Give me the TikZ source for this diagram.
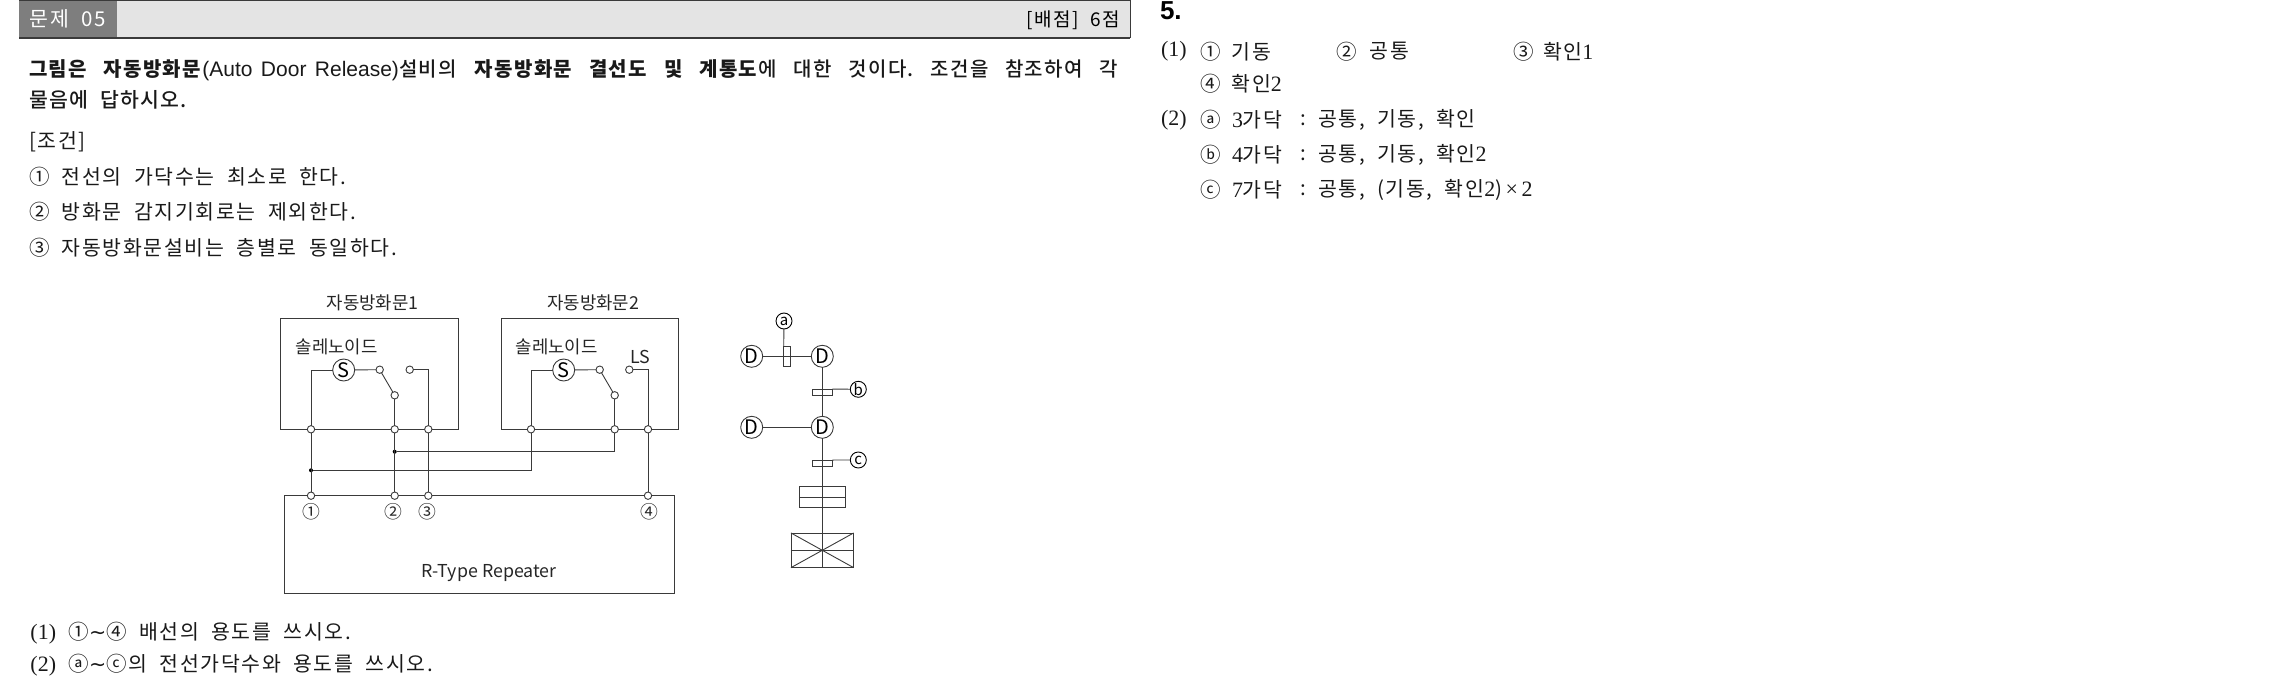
\documentclass[tikz,border=0pt]{standalone}
\usepackage{fontspec}
\setmainfont{Noto Sans CJK KR}
\newfontfamily\bodyfont[LetterSpace=8,WordSpace=2]{Noto Sans CJK KR}
\newfontfamily\medfont[LetterSpace=6.5,WordSpace=2]{Noto Sans CJK KR Medium}
\newfontfamily\latinserif[Scale=1.07]{Liberation Serif}
\newfontfamily\latinsans{Liberation Sans}
\newfontfamily\symbfont{DejaVu Sans}
\definecolor{barlight}{HTML}{E4E4E4}
\definecolor{bardark}{HTML}{7E7E7E}
\definecolor{wire}{HTML}{3A3A3A}
\newcommand{\bd}[1]{\textbf{#1}}
\newcommand{\nm}[1]{{\latinserif #1}}
\newcommand{\tld}{{\symbfont ∼}}

\begin{document}
\begin{tikzpicture}[x=1pt,y=-1pt,
      every node/.style={inner sep=0pt,outer sep=0pt},
      line/.style={anchor=west,font=\bodyfont\fontsize{20.5}{20}\selectfont,text=black!90},
      label/.style={font=\fontsize{17.8}{18}\selectfont,text=black!85},
      wirebox/.style={draw=wire,line width=0.9pt,rectangle},
      wireline/.style={draw=wire,line width=0.9pt},
      term/.style={circle,draw=wire,fill=white,line width=0.9pt,minimum size=7.4pt},
      dot/.style={circle,fill=black,minimum size=4pt},
      sym/.style={circle,draw=wire,line width=0.9pt,minimum size=22pt,font=\fontsize{20}{20}\selectfont},
      tag/.style={circle,draw=black,line width=0.9pt,minimum size=16pt,font=\fontsize{15}{15}\selectfont}]
    \useasboundingbox (0,0) rectangle (2296,676);

    % header
    \node[rectangle,fill=barlight,anchor=north west,minimum width=1111pt,minimum height=38pt] (bar) at (19,0) {};
    \node[rectangle,fill=bardark,anchor=north west,minimum width=98pt,minimum height=38pt] (num) at (19,0) {};
    \draw[wireline,line width=1.2pt] (bar.south west) -- (bar.south east);
    \draw[wireline,line width=1.2pt] (bar.north west) -- (bar.north east);
    \draw[wireline] (bar.north east) -- (bar.south east);
    \node[text=white,font=\bodyfont\fontsize{20.5}{21}\selectfont] (numtext) at (num.center) {문제 05};
    \node[anchor=east,font=\bodyfont\fontsize{19}{19}\selectfont] (score) at (1120,20) {[배점] 6점};

    % question
    \node[line] (q1) at (29,70) {\medfont\frenchspacing\fontsize{20}{20}\selectfont\makebox[1089pt][s]{\bd{그림은 자동방화문}{\latinsans\fontsize{21}{21}\selectfont (Auto Door Release)}설비의 \bd{자동방화문 결선도 및 계통도}에 대한 것이다. 조건을 참조하여 각}};
    \node[line] (q2) at (29,99.5) {\medfont\fontsize{20.5}{20}\selectfont 물음에 답하시오.};
    \node[line] (cond) at (29,141.5) {[조건]};
    \node[line] (c1) at (29,176.5) {① 전선의 가닥수는 최소로 한다.};
    \node[line] (c2) at (29,212) {② 방화문 감지기회로는 제외한다.};
    \node[line] (c3) at (29,248) {③ 자동방화문설비는 층별로 동일하다.};
    \node[line] (p1) at (30.5,633) {\nm{(1)} ①\tld ④ 배선의 용도를 쓰시오.};
    \node[line] (p2) at (30.5,665) {\nm{(2)} ⓐ\tld ⓒ의 전선가닥수와 용도를 쓰시오.};

    % wiring diagram
    \node[wirebox,minimum width=177.6pt,minimum height=111pt] (door1) at (369.5,373.8) {};
    \node[wirebox,minimum width=177.3pt,minimum height=111pt] (door2) at (589.7,373.8) {};
    \node[wirebox,minimum width=390.7pt,minimum height=97.3pt] (rep) at (479.4,544.4) {};
    \node[label] (name1) at (372.7,302.5) {자동방화문1};
    \node[label] (name2) at (593.3,302.5) {자동방화문2};
    \node[label] (sol1) at (336.7,346.5) {솔레노이드};
    \node[label] (sol2) at (556.7,346.5) {솔레노이드};
    \node[label] (ls) at (640,356.5) {LS};
    \node[label] (reptext) at (489.3,573.5) {R-Type Repeater};

    \foreach \nn/\xx in {a1/311,a2/394.7,a3/428.3,b1/531,b2/614.7,b3/648}
      \node[term] (t\nn) at (\xx,429.3) {};
    \foreach \nn/\xx in {1/311,2/394.7,3/428.3,4/648}
      \node[term] (r\nn) at (\xx,495.7) {};
    \node[label] (n1) at (311,512) {①};
    \node[label] (n2) at (393.5,512) {②};
    \node[label] (n3) at (427,512) {③};
    \node[label] (n4) at (649,512) {④};

    \node[sym] (s1) at (343.7,370) {S};
    \node[sym] (s2) at (563.7,370) {S};
    \node[term] (ca1) at (379.7,369.7) {};
    \node[term] (cb1) at (394.7,395.3) {};
    \node[term] (cc1) at (409.7,369.7) {};
    \node[term] (ca2) at (599.7,369.7) {};
    \node[term] (cb2) at (614.7,395.3) {};
    \node[term] (cc2) at (629.3,369.7) {};
    \node[dot] (j1) at (311,470.3) {};
    \node[dot] (j2) at (394.7,451.7) {};

    \draw[wireline] (ta1) |- (s1);
    \draw[wireline] (s1) -- (ca1);
    \draw[wireline] (ca1) -- (cb1);
    \draw[wireline] (cb1) -- (ta2);
    \draw[wireline] (cc1) -| (ta3);
    \draw[wireline] (tb1) |- (s2);
    \draw[wireline] (s2) -- (ca2);
    \draw[wireline] (ca2) -- (cb2);
    \draw[wireline] (cb2) -- (tb2);
    \draw[wireline] (cc2) -| (tb3);
    \draw[wireline] (ta1) -- (r1);
    \draw[wireline] (ta2) -- (r2);
    \draw[wireline] (ta3) -- (r3);
    \draw[wireline] (tb3) -- (r4);
    \draw[wireline] (j1) -| (tb1);
    \draw[wireline] (j2) -| (tb2);

    % riser diagram
    \node[sym] (d1) at (751.7,356.3) {D};
    \node[sym] (d2) at (822.3,356.3) {D};
    \node[sym] (d3) at (751.7,427.3) {D};
    \node[sym] (d4) at (822.3,427.3) {D};
    \node[tag] (taga) at (784,321) {a};
    \node[tag] (tagb) at (858.3,389.3) {b};
    \node[tag] (tagc) at (858.3,460) {c};
    \node[wirebox,minimum width=6.6pt,minimum height=19.7pt] (duct1) at (787,356.2) {};
    \node[wirebox,minimum width=20pt,minimum height=6.3pt] (duct2) at (822.3,392.2) {};
    \node[wirebox,minimum width=20pt,minimum height=6.3pt] (duct3) at (822.3,463.2) {};
    \node[wirebox,minimum width=45.3pt,minimum height=21.4pt] (recv) at (822.3,497) {};
    \node[wirebox,minimum width=62.7pt,minimum height=34.7pt] (board) at (822.3,550.3) {};
    \draw[wireline] (d1) -- (d2);
    \draw[wireline] (d3) -- (d4);
    \draw[wireline] (d2) -- (d4);
    \draw[wireline] (d4) -- (recv.north);
    \draw[wireline] (recv.west) -- (recv.east);
    \draw[wireline] (recv.north) -- (board.north);
    \draw[wireline] (board.north) -- (board.south);
    \draw[wireline] (board.west) -- (board.east);
    \draw[wireline] (board.north west) -- (board.south east);
    \draw[wireline] (board.north east) -- (board.south west);
    \draw[wireline] (taga) -- (duct1.north west);
    \draw[wireline] (duct2.north east) -- (tagb);
    \draw[wireline] (duct3.north east) -- (tagc);

    % answer
    \node[anchor=west,font=\fontsize{26}{26}\selectfont\bfseries] (ans) at (1160,11) {\latinsans 5.};
    \node[line] (a1) at (1161,51.5) {\nm{(1)}};
    \node[line] (a11) at (1200,51.5) {①};
    \node[line] (a11t) at (1231.5,51.5) {기동};
    \node[line] (a12) at (1336.5,51.5) {②};
    \node[line] (a12t) at (1369.5,51.5) {공통};
    \node[line] (a13) at (1513,51.5) {③};
    \node[line] (a13t) at (1543,51.5) {확인\nm{1}};
    \node[line] (a14) at (1200,84) {④};
    \node[line] (a14t) at (1231.5,84) {확인\nm{2}};
    \node[line] (a2) at (1161,120) {\nm{(2)}};
    \node[line] (a21) at (1200,120) {ⓐ};
    \node[line] (a21t) at (1232,120) {\nm{3}가닥};
    \node[line] (a21c) at (1300,120) {:};
    \node[line] (a21d) at (1318,120) {공통, 기동, 확인};
    \node[line] (a22) at (1200,155) {ⓑ};
    \node[line] (a22t) at (1232,155) {\nm{4}가닥};
    \node[line] (a22c) at (1300,155) {:};
    \node[line] (a22d) at (1318,155) {공통, 기동, 확인\nm{2}};
    \node[line] (a23) at (1200,190) {ⓒ};
    \node[line] (a23t) at (1232,190) {\nm{7}가닥};
    \node[line] (a23c) at (1300,190) {:};
    \node[line] (a23d) at (1318,190) {공통, (기동, 확인\nm{2})\,\nm{×\,2}};
\end{tikzpicture}
\end{document}
